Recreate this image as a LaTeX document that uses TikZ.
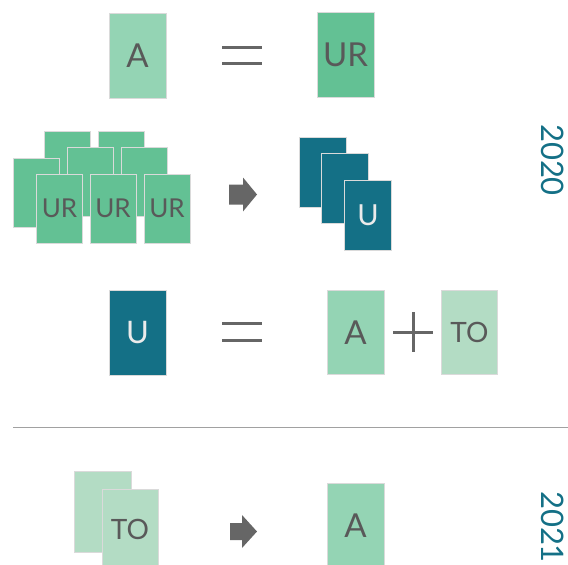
\documentclass[tikz,border=0pt]{standalone}
\usepackage{fontspec}
\setmainfont{Lato}
\usetikzlibrary{positioning}
\definecolor{agreen}{HTML}{94D4B4}
\definecolor{urgreen}{HTML}{63C194}
\definecolor{togreen}{HTML}{B3DCC4}
\definecolor{uteal}{HTML}{147086}
\definecolor{cardline}{HTML}{DADADA}
\definecolor{labelgray}{HTML}{595959}
\definecolor{signgray}{HTML}{666666}

\begin{document}
\begin{tikzpicture}[x=1pt, y=-1pt,
  card/.style={draw=cardline, line width=0.8pt, inner sep=0pt, text=labelgray},
  bigcard/.style={card, minimum width=57pt, minimum height=85pt, font=\fontsize{33}{33}\selectfont},
  smallcard/.style={card, minimum width=46pt, minimum height=69pt, font=\fontsize{26}{26}\selectfont},
  ucard/.style={card, fill=uteal, minimum width=47pt, minimum height=70pt, text=white!92!black, font=\fontsize{29}{29}\selectfont},
  tocard/.style={card, fill=togreen, minimum width=57pt, minimum height=81pt, font=\fontsize{28}{28}\selectfont},
  sign/.style={draw=signgray, line width=3pt},
  blockarr/.style={fill=signgray},
  year/.style={text=uteal, rotate=-90, font=\fontsize{31}{31}\selectfont}
]
\useasboundingbox (0,0) rectangle (568,565);

% 2020: A = UR
\node[bigcard, fill=agreen] (a1) at (137.5,55.5) {A};
\node[bigcard, fill=urgreen] (ur1) at (345.5,55) {UR};
\draw[sign] (222,47) -- (262,47);
\draw[sign] (222,63) -- (262,63);

% many UR -> few U
\node[smallcard, fill=urgreen] (urb1) at (67,165.5) {};
\node[smallcard, fill=urgreen] (urb2) at (121,165.5) {};
\node[smallcard, fill=urgreen] (urm1) at (90,181.5) {};
\node[smallcard, fill=urgreen] (urm2) at (144,181.5) {};
\node[smallcard, fill=urgreen] (url) at (36.5,192.5) {};
\node[smallcard, fill=urgreen] (urf1) at (59.5,208.5) {UR};
\node[smallcard, fill=urgreen] (urf2) at (113,208.5) {UR};
\node[smallcard, fill=urgreen] (urf3) at (167,208.5) {UR};
\fill[blockarr] (229,184.5) -- (243,184.5) -- (243,177.5) -- (257,194.5) -- (243,211.5) -- (243,204.5) -- (229,204.5) -- cycle;
\node[ucard] (u1) at (322.5,172) {};
\node[ucard] (u2) at (345,188.5) {};
\node[ucard] (u3) at (368,215) {U};
\node[year] (y20) at (553,160) {2020};

% U = A + TO
\node[bigcard, fill=uteal, text=white!92!black, font=\fontsize{31}{31}\selectfont] (u4) at (137.5,332.5) {U};
\draw[sign] (222,323) -- (262,323);
\draw[sign] (222,340) -- (262,340);
\node[bigcard, fill=agreen, minimum height=84pt] (a2) at (355.5,332.5) {A};
\draw[sign] (393,332) -- (433,332);
\draw[sign] (413,312) -- (413,352);
\node[tocard, minimum width=56pt, minimum height=84pt] (to1) at (469.5,332.5) {TO};

\draw[draw=black!37, line width=0.8pt] (13,427) -- (568,427);

% 2021: TO -> A
\node[tocard] (to2) at (102.5,511.5) {};
\node[tocard, minimum width=56pt] (to3) at (130,529.5) {TO};
\fill[blockarr] (230,523) -- (242,523) -- (242,515) -- (257,531.5) -- (242,548) -- (242,540) -- (230,540) -- cycle;
\node[bigcard, fill=agreen] (a3) at (355.5,525.5) {A};
\node[year] (y21) at (553,527) {2021};
\end{tikzpicture}
\end{document}
